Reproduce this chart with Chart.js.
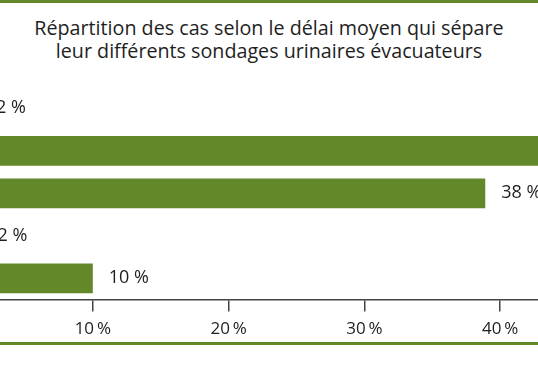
<!DOCTYPE html>
<html>
<head>
<meta charset="utf-8">
<script src="https://cdn.jsdelivr.net/npm/chart.js@4"></script>
<style>
  html, body { margin: 0; padding: 0; }
  body { width: 538px; height: 384px; overflow: hidden; position: relative; background: #fff; font-family: "Open Sans", sans-serif; }
  .rule { position: absolute; left: 0; width: 538px; height: 3px; background: #62882a; }
  #title { position: absolute; left: 0; top: 16px; width: 538px; text-align: center; font-size: 19.7px; line-height: 23px; color: #1e1e1e; }
  #wrap { position: absolute; left: -50px; top: 0; width: 708px; height: 384px; }
</style>
</head>
<body>
<div class="rule" style="top:0"></div>
<div id="title">Répartition des cas selon le délai moyen qui sépare<br>leur différents sondages urinaires évacuateurs</div>
<div id="wrap"><canvas id="chart"></canvas></div>
<div class="rule" style="top:342px"></div>
<script>
const categories = ["a", "b", "c", "d", "e"];
// bar lengths as drawn in the picture
const values = [1.7, 48, 38.9, 1.8, 10];
// the printed labels
const valueLabels = ["2 %", "48 %", "38 %", "2 %", "10 %"];
const xTicks = [0, 10, 20, 30, 40, 50];

const green = "#62882a";

// draws the label just after the end of each bar
const barLabels = {
  id: "barLabels",
  afterDatasetsDraw(chart) {
    const ctx = chart.ctx;
    const meta = chart.getDatasetMeta(0);
    ctx.save();
    ctx.font = '18px "Open Sans", sans-serif';
    ctx.fillStyle = "#1e1e1e";
    ctx.textBaseline = "middle";
    meta.data.forEach((bar, i) => {
      ctx.fillText(valueLabels[i], bar.x + 16, bar.y);
    });
    ctx.restore();
  },
};

new Chart(document.getElementById("chart"), {
  type: "bar",
  data: {
    labels: categories,
    datasets: [
      {
        data: values,
        backgroundColor: green,
        borderWidth: 0,
        barPercentage: 0.7,
        categoryPercentage: 1,
      },
    ],
  },
  options: {
    indexAxis: "y",
    responsive: true,
    maintainAspectRatio: false,
    animation: false,
    layout: { padding: { top: 87, left: 0, right: 22, bottom: 38 } },
    plugins: {
      legend: { display: false },
      tooltip: { enabled: false },
    },
    scales: {
      y: { display: false },
      x: {
        min: xTicks[0],
        max: xTicks[xTicks.length - 1],
        afterBuildTicks: (axis) => { axis.ticks = xTicks.map((v) => ({ value: v })); },
        border: { display: true, color: "#444", width: 1.5 },
        grid: { drawOnChartArea: false, tickLength: 12, color: "#444", lineWidth: 1.5 },
        ticks: {
          padding: 7,
          color: "#1e1e1e",
          font: { family: "Open Sans", size: 17 },
          // first and last ticks fall outside the picture, keep them blank
          callback: (v) => (v === xTicks[0] || v === xTicks[xTicks.length - 1] ? "" : v + "\u2009%"),
        },
      },
    },
  },
  plugins: [barLabels],
});
</script>
</body>
</html>
